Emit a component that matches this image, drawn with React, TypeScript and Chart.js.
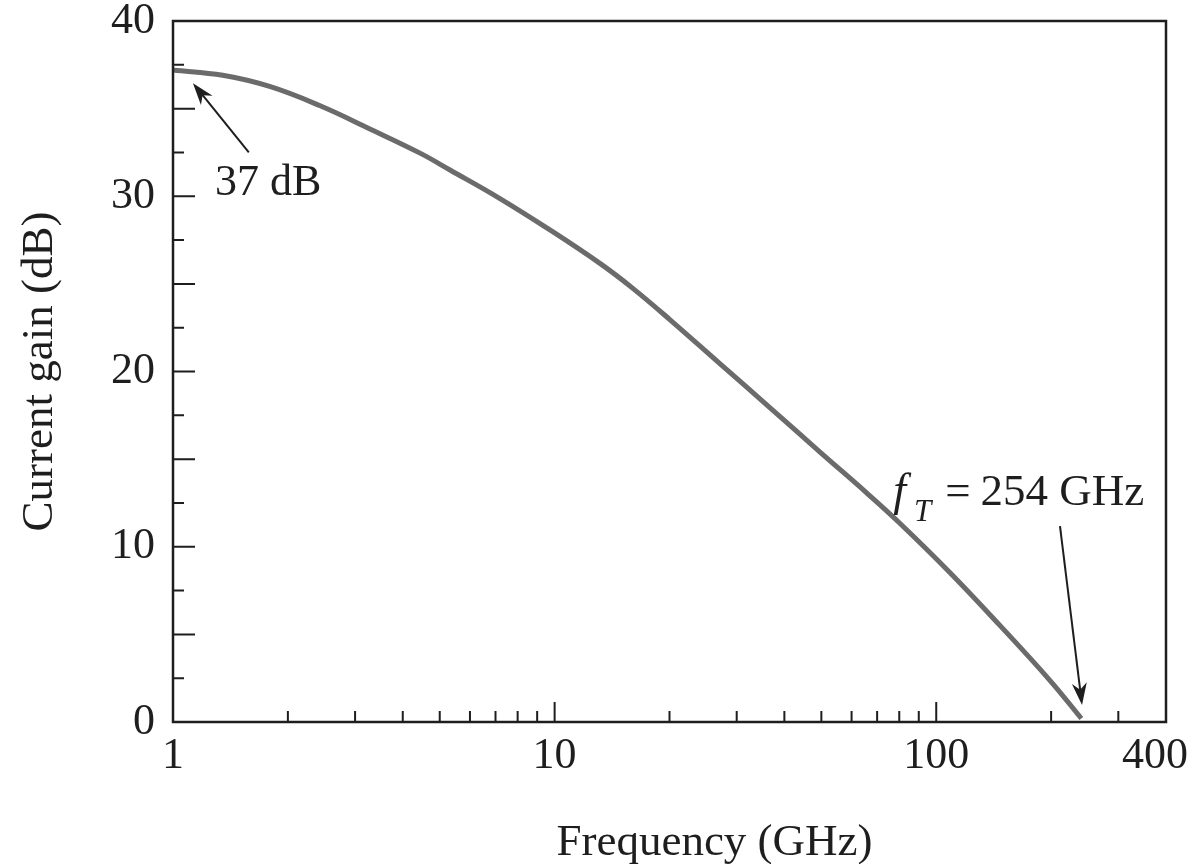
import React, { useEffect, useRef } from 'react';
import { Chart, registerables } from 'chart.js';

Chart.register(...registerables);

// ---- data ----
const freqGHz = [1, 1.35, 1.8, 2.43, 3.28, 4.44, 5.32, 7.19, 9.72, 13.2, 16.0, 20.0, 27.1, 36.7, 49.6, 65.9, 80.4, 108.7, 147, 199, 240];
const gainDB = [37.2, 36.9, 36.25, 35.16, 33.84, 32.46, 31.5, 29.87, 28.08, 26.14, 24.76, 22.98, 20.45, 17.93, 15.4, 13.05, 11.33, 8.52, 5.5, 2.35, 0.2];

const xLabelTicks = [1, 10, 100, 400];
const xTickLabels = ['1', '10', '100', '400\u2002'];
const xMajorTicks = [10, 100];
const xMinorTicks = [2, 3, 4, 5, 6, 7, 8, 9, 20, 30, 40, 50, 60, 70, 80, 90, 200, 300];

const yLabelTicks = [0, 10, 20, 30, 40];
const yMajorTicks = [5, 10, 15, 20, 25, 30, 35];
const yMinorTicks = [2.5, 7.5, 12.5, 17.5, 22.5, 27.5, 32.5, 37.5];

const xTitle = 'Frequency (GHz)';
const yTitle = 'Current gain (dB)';

// annotation anchors in data coordinates [GHz, dB]
const gainNote = { text: '37 dB', at: [1.288, 30.06], tail: [1.58, 32.5], tip: [1.128, 36.45] };
const ftNote = { sym: 'f', sub: 'T', rest: '254 GHz', at: [77.1, 12.38], tail: [211, 11.18], tip: [241, 0.97] };

const INK = '#1e1e1e';
const CURVE = '#6b6b6b';
const FONT = '"Liberation Serif", "DejaVu Serif", serif';

function arrow(ctx: CanvasRenderingContext2D, x1: number, y1: number, x2: number, y2: number) {
  const ang = Math.atan2(y2 - y1, x2 - x1);
  const len = 22;
  const half = 7.5;
  const bx = x2 - len * Math.cos(ang);
  const by = y2 - len * Math.sin(ang);
  ctx.beginPath();
  ctx.moveTo(x1, y1);
  ctx.lineTo(x2 - (len * 0.6) * Math.cos(ang), y2 - (len * 0.6) * Math.sin(ang));
  ctx.stroke();
  const nx = -Math.sin(ang);
  const ny = Math.cos(ang);
  const notchX = x2 - len * 0.7 * Math.cos(ang);
  const notchY = y2 - len * 0.7 * Math.sin(ang);
  ctx.beginPath();
  ctx.moveTo(x2, y2);
  ctx.lineTo(bx + nx * half, by + ny * half);
  ctx.lineTo(notchX, notchY);
  ctx.lineTo(bx - nx * half, by - ny * half);
  ctx.closePath();
  ctx.fill();
}

const decor = {
  id: 'decor',
  afterDraw(chart: any) {
    const { ctx, chartArea: a, scales } = chart;
    const x = scales.x;
    const y = scales.y;
    const px = (v: number) => x.getPixelForValue(v);
    const py = (v: number) => y.getPixelForValue(v);
    ctx.save();
    ctx.strokeStyle = INK;
    ctx.fillStyle = INK;
    ctx.lineCap = 'butt';

    // inward tick marks
    ctx.lineWidth = 2;
    ctx.beginPath();
    xMajorTicks.forEach((v) => { ctx.moveTo(px(v), a.bottom); ctx.lineTo(px(v), a.bottom - 20); });
    xMinorTicks.forEach((v) => { ctx.moveTo(px(v), a.bottom); ctx.lineTo(px(v), a.bottom - 11); });
    yMajorTicks.forEach((v) => { ctx.moveTo(a.left, py(v)); ctx.lineTo(a.left + 22, py(v)); });
    yMinorTicks.forEach((v) => { ctx.moveTo(a.left, py(v)); ctx.lineTo(a.left + 11, py(v)); });
    ctx.stroke();

    // frame
    ctx.lineWidth = 2.5;
    ctx.strokeRect(a.left, a.top, a.right - a.left, a.bottom - a.top);

    // arrows
    ctx.lineWidth = 2;
    arrow(ctx, px(gainNote.tail[0]), py(gainNote.tail[1]), px(gainNote.tip[0]), py(gainNote.tip[1]));
    arrow(ctx, px(ftNote.tail[0]), py(ftNote.tail[1]), px(ftNote.tip[0]), py(ftNote.tip[1]));

    // texts
    ctx.textBaseline = 'alphabetic';
    ctx.textAlign = 'left';
    ctx.font = `44px ${FONT}`;
    ctx.fillText(gainNote.text, px(gainNote.at[0]), py(gainNote.at[1]));

    let tx = px(ftNote.at[0]);
    const ty = py(ftNote.at[1]);
    ctx.font = `italic 46px ${FONT}`;
    ctx.fillText(ftNote.sym, tx, ty);
    tx += ctx.measureText(ftNote.sym).width + 8;
    ctx.font = `italic 31px ${FONT}`;
    ctx.fillText(ftNote.sub, tx, ty + 16);
    tx += ctx.measureText(ftNote.sub).width + 14;
    ctx.font = `45px ${FONT}`;
    ctx.fillText('=', tx, ty);
    tx += ctx.measureText('=').width + 10;
    ctx.fillText(ftNote.rest, tx, ty);

    // x axis title
    ctx.textAlign = 'center';
    ctx.font = `45px ${FONT}`;
    ctx.fillText(xTitle, (a.left + a.right) / 2 + 45, a.bottom + 133);
    ctx.restore();
  },
};

export default function App() {
  const ref = useRef<HTMLCanvasElement | null>(null);
  useEffect(() => {
    if (!ref.current) return;
    const chart = new Chart(ref.current, {
      type: 'line',
      data: {
        datasets: [
          {
            data: freqGHz.map((f, i) => ({ x: f, y: gainDB[i] })),
            borderColor: CURVE,
            borderWidth: 5,
            pointRadius: 0,
            fill: false,
            tension: 0.4,
          },
        ],
      },
      options: {
        animation: false,
        responsive: true,
        maintainAspectRatio: false,
        layout: { padding: { top: 21, right: 27, left: 0, bottom: 0 } },
        plugins: { legend: { display: false }, tooltip: { enabled: false } },
        scales: {
          x: {
            type: 'logarithmic',
            min: 1,
            max: 400,
            afterBuildTicks: (s: any) => { s.ticks = xLabelTicks.map((v) => ({ value: v })); },
            afterFit: (s: any) => { s.height = 142; s.paddingLeft = 0; s.paddingRight = 0; },
            grid: { display: false, drawTicks: false },
            border: { display: false },
            ticks: {
              autoSkip: false,
              maxRotation: 0,
              minRotation: 0,
              padding: 8,
              color: INK,
              font: { family: FONT, size: 44 },
              callback: (_v: any, i: number) => xTickLabels[i],
            },
          },
          y: {
            type: 'linear',
            min: 0,
            max: 40,
            afterBuildTicks: (s: any) => { s.ticks = yLabelTicks.map((v) => ({ value: v })); },
            afterFit: (s: any) => { s.width = 173; s.paddingTop = 0; s.paddingBottom = 0; },
            grid: { display: false, drawTicks: false },
            border: { display: false },
            ticks: {
              padding: 18,
              color: INK,
              font: { family: FONT, size: 44 },
              callback: (v: any) => String(v),
            },
            title: {
              display: true,
              text: yTitle,
              color: INK,
              font: { family: FONT, size: 45, weight: 'normal' },
              padding: { top: 13, bottom: 0 },
            },
          },
        },
      },
      plugins: [decor],
    } as any);
    return () => chart.destroy();
  }, []);

  return (
    <div style={{ position: 'fixed', left: 0, top: 0, width: 1193, height: 864, background: '#fff' }}>
      <canvas ref={ref} />
    </div>
  );
}
